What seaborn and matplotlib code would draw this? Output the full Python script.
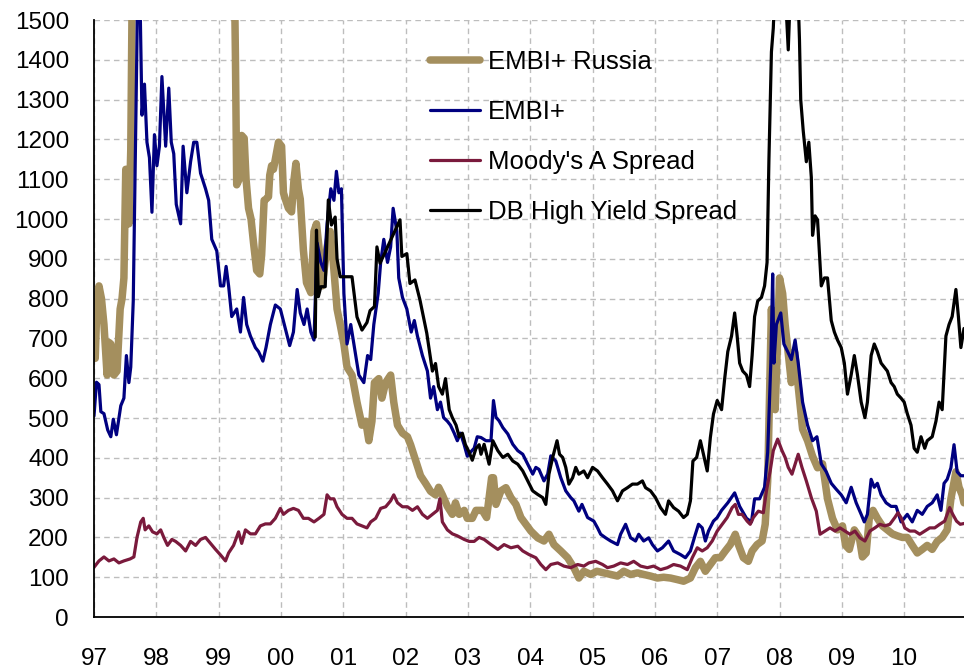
import matplotlib
matplotlib.use("Agg")
import matplotlib.pyplot as plt
import seaborn as sns
import pandas as pd
from matplotlib.lines import Line2D

# ---------------- data ----------------
years = list(range(1997, 2011))
year_labels = ['97', '98', '99', '00', '01', '02', '03', '04', '05', '06', '07', '08', '09', '10']
y_ticks = list(range(0, 1501, 100))

series_names = ["EMBI+ Russia", "EMBI+", "Moody's A Spread", "DB High Yield Spread"]

russia_t = [1997.0, 1997.02, 1997.05, 1997.08, 1997.12, 1997.16, 1997.21, 1997.24, 1997.27, 1997.32, 1997.37,
            1997.42, 1997.45, 1997.48, 1997.51, 1997.54, 1997.56, 1997.59, 1997.62, 1997.8, 1998.2, 1998.65,
            1999.0, 1999.25, 1999.27, 1999.29, 1999.33, 1999.37, 1999.41, 1999.44, 1999.48, 1999.52, 1999.56,
            1999.61, 1999.66, 1999.69, 1999.73, 1999.76, 1999.8, 1999.82, 1999.85, 1999.88, 1999.96, 2000.01,
            2000.04, 2000.07, 2000.12, 2000.17, 2000.21, 2000.24, 2000.28, 2000.31, 2000.36, 2000.41, 2000.48,
            2000.53, 2000.57, 2000.61, 2000.66, 2000.74, 2000.79, 2000.84, 2000.9, 2000.95, 2001.01, 2001.06,
            2001.14, 2001.22, 2001.3, 2001.36, 2001.41, 2001.46, 2001.5, 2001.57, 2001.62, 2001.68, 2001.76,
            2001.81, 2001.87, 2001.95, 2002.03, 2002.08, 2002.16, 2002.24, 2002.32, 2002.4, 2002.48, 2002.53,
            2002.59, 2002.67, 2002.75, 2002.8, 2002.86, 2002.94, 2002.99, 2003.07, 2003.13, 2003.23, 2003.3,
            2003.38, 2003.41, 2003.45, 2003.53, 2003.61, 2003.69, 2003.77, 2003.85, 2003.93, 2004.01, 2004.12,
            2004.22, 2004.3, 2004.38, 2004.49, 2004.6, 2004.7, 2004.78, 2004.86, 2004.97, 2005.07, 2005.18,
            2005.29, 2005.4, 2005.5, 2005.61, 2005.72, 2005.82, 2005.93, 2006.04, 2006.14, 2006.25, 2006.36,
            2006.46, 2006.57, 2006.65, 2006.73, 2006.81, 2006.89, 2006.97, 2007.05, 2007.13, 2007.21, 2007.29,
            2007.34, 2007.42, 2007.5, 2007.56, 2007.64, 2007.72, 2007.77, 2007.81, 2007.84, 2007.86, 2007.87,
            2007.9, 2007.93, 2007.97, 2008.0, 2008.05, 2008.09, 2008.13, 2008.19, 2008.24, 2008.3, 2008.37,
            2008.45, 2008.53, 2008.61, 2008.69, 2008.77, 2008.85, 2008.93, 2009.01, 2009.06, 2009.12, 2009.2,
            2009.28, 2009.33, 2009.39, 2009.44, 2009.5, 2009.57, 2009.65, 2009.73, 2009.81, 2009.89, 2009.97,
            2010.05, 2010.13, 2010.21, 2010.29, 2010.37, 2010.45, 2010.53, 2010.61, 2010.69, 2010.75, 2010.83,
            2010.88, 2010.93, 2010.96]
russia_v = [680, 650, 800, 832, 800, 735, 608, 690, 686, 608, 618,
            774, 800, 852, 1125, 1120, 988, 1173, 1700, 2300, 2600, 5500,
            3500, 1650, 1400, 1086, 1100, 1210, 1203, 1100, 1027, 1000, 940,
            871, 862, 910, 1047, 1050, 1056, 1110, 1134, 1125, 1193, 1183,
            1066, 1050, 1027, 1018, 1100, 1140, 1075, 1050, 922, 840, 815,
            969, 988, 930, 832, 930, 969, 891, 774, 735, 686, 628,
            608, 540, 482, 492, 443, 492, 589, 599, 550, 589, 608,
            540, 482, 462, 453, 433, 394, 355, 336, 316, 307, 326,
            307, 278, 258, 287, 258, 268, 248, 248, 268, 268, 250,
            350, 350, 283, 317, 325, 300, 283, 250, 233, 216, 199,
            191, 208, 182, 166, 149, 124, 98, 115, 107, 115, 111,
            107, 103, 115, 107, 111, 107, 103, 98, 100, 98, 94,
            90, 98, 124, 140, 115, 132, 149, 149, 166, 182, 208,
            182, 149, 140, 166, 182, 191, 233, 342, 552, 700, 774,
            600, 521, 700, 852, 813, 735, 677, 589, 667, 579, 472,
            443, 404, 375, 385, 297, 248, 219, 229, 180, 170, 219,
            200, 151, 161, 248, 268, 248, 229, 219, 209, 204, 200,
            200, 180, 161, 170, 180, 170, 190, 200, 219, 297, 365,
            326, 307, 287]

embi_t = [1997.0, 1997.04, 1997.08, 1997.11, 1997.16, 1997.22, 1997.27, 1997.31, 1997.36, 1997.43, 1997.48,
          1997.52, 1997.56, 1997.59, 1997.63, 1997.67, 1997.7, 1997.74, 1997.77, 1997.81, 1997.85, 1997.89,
          1997.93, 1997.97, 1998.01, 1998.05, 1998.09, 1998.15, 1998.2, 1998.24, 1998.28, 1998.32, 1998.39,
          1998.43, 1998.49, 1998.55, 1998.6, 1998.65, 1998.71, 1998.79, 1998.84, 1998.89, 1998.97, 1999.03,
          1999.08, 1999.12, 1999.16, 1999.21, 1999.29, 1999.35, 1999.4, 1999.45, 1999.51, 1999.59, 1999.64,
          1999.71, 1999.76, 1999.83, 1999.91, 1999.99, 2000.07, 2000.14, 2000.2, 2000.26, 2000.31, 2000.37,
          2000.42, 2000.48, 2000.53, 2000.58, 2000.64, 2000.69, 2000.74, 2000.8, 2000.85, 2000.89, 2000.93,
          2000.97, 2001.01, 2001.06, 2001.12, 2001.17, 2001.25, 2001.33, 2001.39, 2001.44, 2001.49, 2001.56,
          2001.6, 2001.65, 2001.71, 2001.76, 2001.8, 2001.86, 2001.89, 2001.95, 2002.02, 2002.09, 2002.14,
          2002.19, 2002.27, 2002.35, 2002.4, 2002.45, 2002.51, 2002.56, 2002.61, 2002.67, 2002.72, 2002.78,
          2002.83, 2002.88, 2002.94, 2002.99, 2003.04, 2003.1, 2003.15, 2003.21, 2003.29, 2003.37, 2003.41,
          2003.45, 2003.5, 2003.56, 2003.64, 2003.72, 2003.8, 2003.88, 2003.96, 2004.04, 2004.09, 2004.14,
          2004.22, 2004.28, 2004.33, 2004.41, 2004.49, 2004.57, 2004.65, 2004.7, 2004.78, 2004.83, 2004.92,
          2005.02, 2005.08, 2005.13, 2005.21, 2005.29, 2005.4, 2005.45, 2005.53, 2005.61, 2005.69, 2005.74,
          2005.82, 2005.9, 2005.96, 2006.04, 2006.12, 2006.22, 2006.3, 2006.41, 2006.49, 2006.57, 2006.65,
          2006.7, 2006.76, 2006.81, 2006.86, 2006.94, 2007.0, 2007.07, 2007.17, 2007.28, 2007.36, 2007.47,
          2007.55, 2007.6, 2007.68, 2007.76, 2007.81, 2007.86, 2007.89, 2007.91, 2007.95, 2008.02, 2008.07,
          2008.13, 2008.19, 2008.25, 2008.3, 2008.37, 2008.45, 2008.53, 2008.6, 2008.67, 2008.75, 2008.83,
          2008.91, 2008.99, 2009.07, 2009.15, 2009.23, 2009.31, 2009.36, 2009.41, 2009.47, 2009.52, 2009.57,
          2009.63, 2009.71, 2009.79, 2009.87, 2009.95, 2010.0, 2010.05, 2010.13, 2010.21, 2010.29, 2010.37,
          2010.45, 2010.53, 2010.59, 2010.64, 2010.69, 2010.75, 2010.8, 2010.85, 2010.91, 2010.96]
embi_v = [505, 590, 584, 516, 511, 470, 453, 497, 458, 531, 550,
          657, 589, 628, 794, 1222, 1560, 1540, 1261, 1339, 1193, 1154,
          1017, 1212, 1134, 1183, 1358, 1183, 1329, 1193, 1164, 1037, 988,
          1183, 1066, 1144, 1193, 1193, 1115, 1076, 1047, 949, 920, 832,
          832, 881, 832, 755, 774, 716, 803, 735, 706, 677, 667,
          643, 677, 735, 784, 774, 725, 682, 716, 823, 764, 735,
          774, 716, 696, 940, 891, 871, 988, 1076, 1047, 1120, 1066,
          1076, 813, 686, 735, 686, 608, 589, 657, 647, 735, 813,
          891, 949, 891, 930, 1027, 969, 852, 803, 774, 716, 745,
          706, 657, 618, 550, 579, 521, 540, 501, 492, 482, 462,
          443, 462, 433, 404, 414, 424, 453, 451, 443, 443, 544,
          502, 493, 476, 460, 434, 418, 409, 384, 359, 376, 371,
          342, 359, 405, 392, 350, 317, 300, 292, 266, 283, 250,
          241, 224, 208, 199, 191, 182, 208, 233, 199, 191, 208,
          191, 199, 182, 166, 174, 191, 166, 157, 149, 166, 208,
          233, 224, 191, 216, 241, 250, 268, 287, 312, 278, 248,
          239, 297, 297, 326, 414, 638, 862, 638, 735, 764, 686,
          667, 647, 696, 638, 540, 482, 443, 453, 385, 365, 336,
          321, 307, 287, 326, 287, 258, 239, 258, 346, 326, 336,
          307, 287, 278, 278, 239, 248, 258, 239, 268, 258, 278,
          287, 307, 268, 336, 346, 375, 433, 365, 355, 355]

moody_t = [1997.0, 1997.08, 1997.16, 1997.24, 1997.32, 1997.4, 1997.48, 1997.58, 1997.64, 1997.69, 1997.75,
           1997.79, 1997.82, 1997.88, 1997.94, 1998.01, 1998.07, 1998.12, 1998.18, 1998.25, 1998.31, 1998.39,
           1998.47, 1998.55, 1998.63, 1998.71, 1998.79, 1998.87, 1998.95, 1999.03, 1999.11, 1999.16, 1999.24,
           1999.32, 1999.37, 1999.43, 1999.51, 1999.59, 1999.67, 1999.75, 1999.83, 1999.91, 1999.99, 2000.04,
           2000.12, 2000.2, 2000.28, 2000.36, 2000.44, 2000.53, 2000.61, 2000.69, 2000.74, 2000.79, 2000.85,
           2000.9, 2000.98, 2001.06, 2001.14, 2001.22, 2001.3, 2001.38, 2001.44, 2001.52, 2001.6, 2001.68,
           2001.76, 2001.81, 2001.87, 2001.95, 2002.03, 2002.11, 2002.19, 2002.27, 2002.35, 2002.43, 2002.51,
           2002.55, 2002.59, 2002.67, 2002.75, 2002.83, 2002.94, 2003.02, 2003.1, 2003.18, 2003.26, 2003.37,
           2003.48, 2003.58, 2003.69, 2003.8, 2003.88, 2003.98, 2004.09, 2004.17, 2004.25, 2004.33, 2004.44,
           2004.54, 2004.65, 2004.76, 2004.86, 2004.94, 2005.05, 2005.16, 2005.24, 2005.34, 2005.45, 2005.56,
           2005.66, 2005.77, 2005.88, 2005.98, 2006.09, 2006.2, 2006.3, 2006.41, 2006.52, 2006.6, 2006.68,
           2006.76, 2006.84, 2006.92, 2007.0, 2007.08, 2007.16, 2007.24, 2007.29, 2007.34, 2007.4, 2007.48,
           2007.53, 2007.58, 2007.66, 2007.74, 2007.79, 2007.85, 2007.9, 2007.97, 2008.04, 2008.09, 2008.14,
           2008.2, 2008.25, 2008.3, 2008.36, 2008.43, 2008.51, 2008.59, 2008.65, 2008.73, 2008.81, 2008.89,
           2008.97, 2009.05, 2009.13, 2009.21, 2009.29, 2009.37, 2009.45, 2009.53, 2009.61, 2009.69, 2009.77,
           2009.85, 2009.9, 2009.95, 2010.01, 2010.09, 2010.17, 2010.25, 2010.33, 2010.41, 2010.49, 2010.57,
           2010.65, 2010.73, 2010.78, 2010.84, 2010.9, 2010.96]
moody_v = [125, 141, 151, 141, 146, 136, 141, 146, 151, 200, 239,
           248, 219, 229, 214, 209, 219, 200, 180, 195, 190, 180,
           166, 190, 180, 195, 200, 185, 170, 156, 141, 161, 180,
           214, 185, 219, 209, 209, 229, 234, 234, 248, 273, 258,
           268, 273, 268, 248, 248, 239, 248, 258, 307, 297, 297,
           277, 258, 248, 248, 234, 229, 224, 239, 248, 273, 277,
           292, 307, 287, 277, 277, 268, 277, 258, 248, 258, 268,
           297, 239, 219, 209, 204, 195, 190, 190, 200, 195, 182,
           170, 182, 174, 178, 166, 157, 149, 132, 119, 132, 136,
           128, 124, 132, 128, 136, 140, 132, 124, 128, 136, 132,
           140, 128, 124, 128, 119, 124, 132, 128, 119, 149, 174,
           166, 174, 191, 216, 233, 250, 275, 283, 258, 258, 241,
           233, 250, 266, 262, 317, 367, 418, 447, 418, 401, 376,
           359, 384, 409, 376, 342, 300, 266, 208, 216, 224, 216,
           224, 216, 208, 216, 199, 191, 216, 224, 233, 229, 233,
           250, 262, 250, 224, 216, 216, 208, 216, 224, 224, 233,
           241, 275, 258, 241, 233, 235]

db_t = [2000.55, 2000.57, 2000.6, 2000.64, 2000.71, 2000.76, 2000.81, 2000.87, 2000.9, 2000.95, 2001.03,
        2001.14, 2001.22, 2001.3, 2001.38, 2001.43, 2001.5, 2001.54, 2001.59, 2001.91, 2001.94, 2002.02,
        2002.07, 2002.15, 2002.23, 2002.34, 2002.43, 2002.48, 2002.53, 2002.59, 2002.64, 2002.7, 2002.75,
        2002.81, 2002.86, 2002.91, 2002.96, 2003.02, 2003.07, 2003.13, 2003.18, 2003.21, 2003.26, 2003.34,
        2003.4, 2003.48, 2003.56, 2003.64, 2003.72, 2003.8, 2003.88, 2003.96, 2004.04, 2004.12, 2004.2,
        2004.25, 2004.3, 2004.36, 2004.43, 2004.47, 2004.52, 2004.57, 2004.62, 2004.68, 2004.73, 2004.78,
        2004.86, 2004.92, 2005.0, 2005.08, 2005.16, 2005.24, 2005.32, 2005.4, 2005.48, 2005.56, 2005.64,
        2005.72, 2005.8, 2005.85, 2005.93, 2006.01, 2006.09, 2006.17, 2006.22, 2006.3, 2006.38, 2006.46,
        2006.52, 2006.57, 2006.61, 2006.67, 2006.73, 2006.78, 2006.84, 2006.89, 2006.94, 2007.0, 2007.07,
        2007.12, 2007.17, 2007.23, 2007.28, 2007.32, 2007.36, 2007.41, 2007.47, 2007.52, 2007.56, 2007.6,
        2007.65, 2007.71, 2007.76, 2007.8, 2007.83, 2007.87, 2007.9, 2007.93, 2008.05, 2008.1, 2008.14,
        2008.18, 2008.27, 2008.32, 2008.34, 2008.38, 2008.43, 2008.47, 2008.51, 2008.53, 2008.57, 2008.61,
        2008.67, 2008.72, 2008.77, 2008.83, 2008.88, 2008.93, 2008.99, 2009.04, 2009.09, 2009.15, 2009.2,
        2009.25, 2009.31, 2009.37, 2009.41, 2009.47, 2009.52, 2009.57, 2009.63, 2009.68, 2009.73, 2009.79,
        2009.84, 2009.89, 2009.95, 2010.0, 2010.05, 2010.11, 2010.16, 2010.21, 2010.27, 2010.33, 2010.37,
        2010.45, 2010.51, 2010.56, 2010.61, 2010.67, 2010.72, 2010.77, 2010.83, 2010.87, 2010.91, 2010.96]
db_v = [703, 972, 805, 830, 830, 1048, 985, 1005, 900, 855, 855,
        855, 754, 721, 740, 770, 780, 930, 889, 998, 906, 913,
        838, 847, 797, 713, 618, 637, 579, 560, 599, 521, 501,
        482, 453, 462, 433, 414, 394, 424, 433, 409, 434, 384,
        443, 418, 401, 409, 392, 384, 367, 342, 317, 308, 300,
        283, 359, 401, 443, 409, 401, 376, 334, 350, 376, 359,
        367, 350, 376, 367, 350, 334, 317, 292, 317, 325, 334,
        334, 342, 325, 317, 300, 275, 258, 292, 275, 266, 250,
        258, 292, 392, 401, 443, 409, 367, 451, 510, 544, 521,
        599, 667, 706, 764, 706, 638, 618, 608, 579, 657, 755,
        794, 803, 832, 891, 1150, 1420, 1480, 1600, 1750, 1550, 1425,
        1600, 1700, 1450, 1300, 1222, 1144, 1193, 1105, 959, 1008, 998,
        832, 852, 852, 745, 716, 696, 677, 638, 560, 609, 657,
        609, 540, 501, 540, 657, 686, 667, 638, 628, 618, 589,
        579, 560, 550, 540, 511, 482, 424, 414, 453, 424, 443,
        453, 492, 540, 521, 706, 735, 755, 823, 755, 677, 725]

colors = {"EMBI+ Russia": "#A48F5E", "EMBI+": "#000080",
          "Moody's A Spread": "#7A1A3C", "DB High Yield Spread": "#000000"}
widths = {"EMBI+ Russia": 5.4, "EMBI+": 2.3, "Moody's A Spread": 2.3, "DB High Yield Spread": 2.3}

frames = [
    pd.DataFrame({"t": russia_t, "v": russia_v, "series": "EMBI+ Russia"}),
    pd.DataFrame({"t": embi_t, "v": embi_v, "series": "EMBI+"}),
    pd.DataFrame({"t": moody_t, "v": moody_v, "series": "Moody's A Spread"}),
    pd.DataFrame({"t": db_t, "v": db_v, "series": "DB High Yield Spread"}),
]

# ---------------- plot ----------------
sns.set_style("white")
plt.rcParams['font.family'] = ['Liberation Sans', 'DejaVu Sans']
plt.rcParams['text.color'] = 'black'

fig = plt.figure(figsize=(9.64, 6.68), dpi=100)
ax = fig.add_axes([0.0975, 0.0763, 0.9025, 0.8937])

for df in frames:
    name = df["series"].iloc[0]
    sns.lineplot(data=df, x="t", y="v", ax=ax, color=colors[name], linewidth=widths[name],
                 estimator=None, sort=False, legend=False, solid_joinstyle='round')

ax.set_xlim(1997, 2010.96)
ax.set_ylim(0, 1500)
ax.set_xticks(years)
ax.set_xticklabels(year_labels)
ax.set_yticks(y_ticks)
ax.set_xlabel("")
ax.set_ylabel("")

ax.grid(True, color="#bdbdbd", linestyle=(0, (4, 3)), linewidth=1.0)
ax.set_axisbelow(True)
for s in ["top", "right"]:
    ax.spines[s].set_visible(False)
for s in ["left", "bottom"]:
    ax.spines[s].set_color("black")
    ax.spines[s].set_linewidth(1.3)

ax.tick_params(axis="both", which="major", direction="out", length=6, width=1.2, color="black",
               labelsize=17.5, labelcolor="black")
ax.tick_params(axis="x", pad=16)
ax.tick_params(axis="y", pad=12)

handles = [Line2D([0], [0], color=colors[n], linewidth=widths[n], solid_capstyle='round') for n in series_names]
leg = ax.legend(handles, series_names, loc="upper left", bbox_to_anchor=(0.386, 0.949),
                frameon=False, fontsize=18.5, handlelength=1.95, handletextpad=0.3,
                labelspacing=1.0, borderpad=0, borderaxespad=0)
for txt in leg.get_texts():
    txt.set_color("black")

fig.savefig("out.png", dpi=100)
